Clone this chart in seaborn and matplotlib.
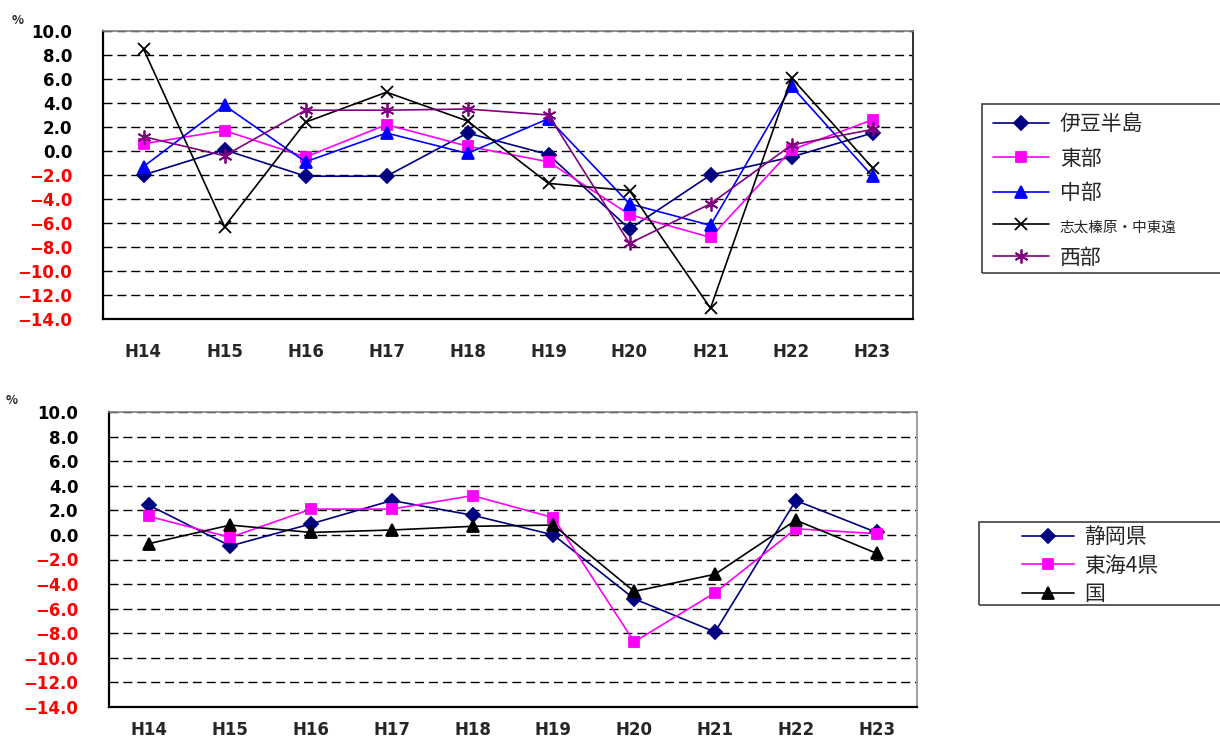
import matplotlib
matplotlib.use("Agg")
import matplotlib.pyplot as plt
from matplotlib.patches import Rectangle
import seaborn as sns

YEARS = ["H14", "H15", "H16", "H17", "H18", "H19", "H20", "H21", "H22", "H23"]

# top panel: regions within the prefecture (%)
IZU = [-2.0, 0.1, -2.1, -2.1, 1.5, -0.3, -6.5, -2.0, -0.5, 1.5]
TOBU = [0.6, 1.7, -0.5, 2.2, 0.4, -0.9, -5.3, -7.2, 0.1, 2.6]
CHUBU = [-1.3, 3.8, -0.9, 1.5, -0.2, 2.7, -4.4, -6.2, 5.4, -2.1]
SHIDA = [8.5, -6.3, 2.4, 4.9, 2.5, -2.7, -3.3, -13.1, 6.1, -1.4]
SEIBU = [1.2, -0.4, 3.4, 3.4, 3.5, 3.0, -7.7, -4.4, 0.5, 1.8]
TOP_NAMES = ["伊豆半島", "東部", "中部", "志太榛原・中東遠", "西部"]

# bottom panel: prefecture / Tokai 4 / national (%)
SHIZUOKA = [2.4, -0.9, 0.9, 2.8, 1.6, 0.0, -5.2, -7.9, 2.8, 0.2]
TOKAI4 = [1.5, -0.2, 2.1, 2.1, 3.2, 1.4, -8.7, -4.7, 0.5, 0.1]
KUNI = [-0.7, 0.8, 0.2, 0.4, 0.7, 0.8, -4.6, -3.2, 1.2, -1.5]
BOTTOM_NAMES = ["静岡県", "東海4県", "国"]

Y_TICKS = list(range(-14, 11, 2))

CJK = ["Noto Sans CJK JP", "DejaVu Sans"]
DASH = (0, (6.5, 3.5))

TOP_STYLES = [
	("#000080", "D", 7),
	("#FF00FF", "s", 7.5),
	("#0000FF", "^", 9),
	("#000000", "x", 9),
	("#800080", (6, 2, 0), 10),
]
BOTTOM_STYLES = [
	("#000080", "D", 7),
	("#FF00FF", "s", 7.5),
	("#000000", "^", 9),
]


def draw_panel(ax, series, names, styles, label_pad, right_color):
	for values, name, (color, marker, ms) in zip(series, names, styles):
		sns.lineplot(
			x=YEARS,
			y=values,
			color=color,
			marker=marker,
			markersize=ms,
			markeredgecolor=color,
			markerfacecolor=color,
			markeredgewidth=1.3,
			linewidth=1.2,
			sort=False,
			label=name,
			ax=ax,
		)
	if ax.get_legend() is not None:
		ax.get_legend().remove()

	ax.set_xlim(-0.5, len(YEARS) - 0.5)
	ax.set_ylim(Y_TICKS[0], Y_TICKS[-1])
	ax.set_xlabel("")
	ax.set_ylabel("")

	labels = [f"{v:.1f}".replace("-", "\u2212") for v in Y_TICKS]
	ax.set_yticks(Y_TICKS, labels=labels)
	for txt, v in zip(ax.get_yticklabels(), Y_TICKS):
		txt.set_color("red" if v < 0 else "black")
		txt.set_fontweight("bold")
		txt.set_fontfamily("DejaVu Sans")
		txt.set_fontsize(12)

	ax.set_xticks(range(len(YEARS)), labels=YEARS)
	ax.set_xticks([i + 0.5 for i in range(len(YEARS) - 1)], minor=True)
	for txt in ax.get_xticklabels():
		txt.set_fontweight("bold")
		txt.set_fontfamily("DejaVu Sans")
		txt.set_fontsize(12)

	ax.tick_params(axis="y", which="major", length=0, pad=22)
	ax.tick_params(axis="x", which="major", length=0, pad=label_pad)
	ax.tick_params(axis="x", which="minor", direction="in", length=7, width=1.2, color="black")

	ax.yaxis.grid(True, linestyle=DASH, color="black", linewidth=1.0)
	ax.xaxis.grid(False)
	ax.set_axisbelow(True)

	for side in ["left", "bottom"]:
		ax.spines[side].set_color("black")
		ax.spines[side].set_linewidth(1.6)
	ax.spines["top"].set_color("#808080")
	ax.spines["top"].set_linewidth(1.2)
	ax.spines["right"].set_color(right_color)
	ax.spines["right"].set_linewidth(1.4)


def add_legend(fig, ax, box, anchor, labelspacing, handlelength):
	W, H = 1220, 740
	x0, y0, x1, y1 = box
	fig.add_artist(
		Rectangle(
			(x0 / W, 1 - y1 / H),
			(x1 - x0) / W,
			(y1 - y0) / H,
			transform=fig.transFigure,
			fill=False,
			edgecolor="#404040",
			linewidth=1.2,
		)
	)
	handles, labels = ax.get_legend_handles_labels()
	leg = fig.legend(
		handles,
		labels,
		loc="upper left",
		bbox_to_anchor=(anchor[0] / W, 1 - anchor[1] / H),
		frameon=False,
		borderpad=0,
		borderaxespad=0,
		handlelength=handlelength,
		handletextpad=0.5,
		labelspacing=labelspacing,
		prop={"family": CJK, "size": 15},
	)
	return leg


def main() -> None:
	sns.set_style("white")
	plt.rcParams["font.family"] = CJK
	plt.rcParams["axes.unicode_minus"] = True

	fig = plt.figure(figsize=(12.2, 7.4), dpi=100)
	ax_top = fig.add_axes([103 / 1220, 1 - 319 / 740, 810 / 1220, 288 / 740])
	ax_bot = fig.add_axes([109 / 1220, 1 - 707 / 740, 808 / 1220, 295 / 740])

	draw_panel(ax_top, [IZU, TOBU, CHUBU, SHIDA, SEIBU], TOP_NAMES, TOP_STYLES, 17, "#303030")
	draw_panel(ax_bot, [SHIZUOKA, TOKAI4, KUNI], BOTTOM_NAMES, BOTTOM_STYLES, 10, "#a0a0a0")

	leg_top = add_legend(fig, ax_top, (982, 104, 1235, 273), (993, 113), 0.6, 2.7)
	leg_top.get_texts()[3].set_fontsize(10.5)
	add_legend(fig, ax_bot, (979, 522, 1235, 605), (1022, 526), 0.32, 2.5)

	fig.text(18 / 1220, 1 - 20 / 740, "%", ha="center", va="center", fontsize=9, fontweight="bold")
	fig.text(12 / 1220, 1 - 400 / 740, "%", ha="center", va="center", fontsize=9, fontweight="bold")

	fig.savefig("out.png", dpi=100)
	plt.close(fig)


if __name__ == "__main__":
	main()
